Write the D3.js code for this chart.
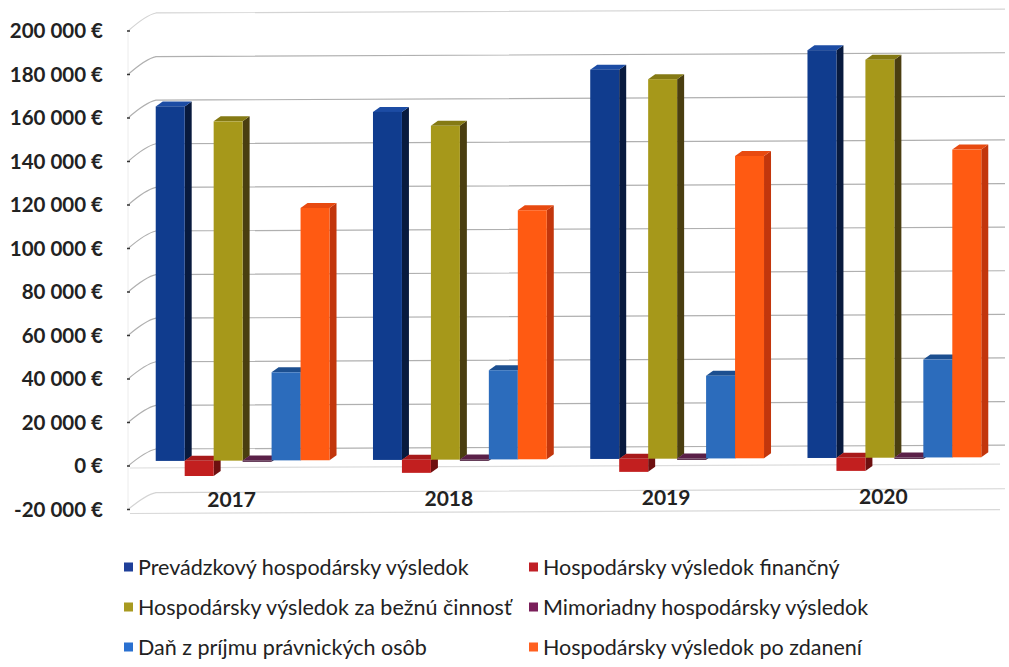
<!DOCTYPE html>
<html>
<head>
<meta charset="utf-8">
<script src="https://cdn.jsdelivr.net/npm/d3@7"></script>
<style>
  html, body { margin: 0; padding: 0; background: #fff; }
  svg { display: block; }
  text { font-family: Lato, "Open Sans", "DejaVu Sans", sans-serif; fill: #222; }
</style>
</head>
<body>
<svg id="chart" width="1009" height="667"></svg>
<script>
// ---- data ----
const years = ["2017", "2018", "2019", "2020"];
const seriesNames = [
  "Prevádzkový hospodársky výsledok",
  "Hospodársky výsledok finančný",
  "Hospodársky výsledok za bežnú činnosť",
  "Mimoriadny hospodársky výsledok",
  "Daň z príjmu právnických osôb",
  "Hospodársky výsledok po zdanení"
];
const prevadzkovy = [163000, 160000, 179000, 187500];
const financny    = [-7000, -6000, -6000, -6000];
const beznaCinnost = [156000, 153500, 174500, 183000];
const mimoriadny  = [-600, -600, -600, -600];
const dan         = [40500, 41000, 38000, 45000];
const poZdaneni   = [116000, 114500, 139000, 141500];
const seriesValues = [prevadzkovy, financny, beznaCinnost, mimoriadny, dan, poZdaneni];
const yTicks = [-20000, 0, 20000, 40000, 60000, 80000, 100000, 120000, 140000, 160000, 180000, 200000];

// colours: [front, side, top, legend]
const colors = [
  ["#103c8e", "#081a3e", "#1c4ca4", "#1f3f99"],
  ["#c21f1f", "#6e1010", "#a81a1a", "#c01f25"],
  ["#a6981a", "#4a3e10", "#857a14", "#a89a20"],
  ["#4a1a3c", "#2a0c22", "#5a2048", "#7a1f5a"],
  ["#2c6cbc", "#163a6a", "#1c4f90", "#2a70d0"],
  ["#ff5a12", "#c2360c", "#e84a10", "#ff6020"]
];

const svg = d3.select("#chart");

// ---- scales ----
const x0 = d3.scaleBand().domain(years).range([134, 1003]).paddingInner(0.2).paddingOuter(0.1);
const x1 = d3.scaleBand().domain(d3.range(seriesNames.length)).range([0, x0.bandwidth()]);
const yFront = d3.scaleLinear().domain([-20000, 200000]).range([504.5, 26]);
const yBack  = d3.scaleLinear().domain([-20000, 200000]).range([492.6, 13]);
const yLabel = d3.scaleLinear().domain([-20000, 200000]).range([509.5, 31]);
const tilt = x => -(x - 150) * 0.0045;

const depthX = 7, depthY = -5;

// ---- back wall grid ----
const grid = svg.append("g");
const wallLeft = 150, wallRight = 1005;
yTicks.forEach(v => {
  const yb = yBack(v);
  const yl = yLabel(v);
  grid.append("path")
    .attr("d", `M128,${yl} Q${wallLeft - 4},${yb + 2} ${wallLeft + 6},${yb + tilt(wallLeft + 6)} L${wallRight},${yb + tilt(wallRight)}`)
    .attr("fill", "none")
    .attr("stroke", v === 200000 || v === -20000 ? "#d4d4d4" : "#b0b0b0")
    .attr("stroke-width", 1.2);
});
// floor edges
[[yFront(0) + 7, "#dcdcdc"], [yLabel(-20000) + 4, "#d8d8d8"]].forEach(([yy, c]) => {
  grid.append("line")
    .attr("x1", 130).attr("x2", 1000)
    .attr("y1", yy).attr("y2", yy + tilt(1000) - tilt(130))
    .attr("stroke", c).attr("stroke-width", 1.2);
});
// left wall vertical edge
grid.append("line").attr("x1", 128).attr("x2", 128)
  .attr("y1", yLabel(200000)).attr("y2", yLabel(-20000))
  .attr("stroke", "#ececec");

// ---- y axis labels + ticks ----
const fmt = v => d3.format(",")(v).replace(/,/g, " ").replace("\u2212", "-") + " €";
const yAxisG = svg.append("g");
yTicks.forEach(v => {
  yAxisG.append("text")
    .attr("x", 103).attr("y", yLabel(v))
    .attr("dy", "0.36em")
    .attr("text-anchor", "end")
    .attr("font-size", 20.5)
    .attr("font-weight", 700)
    .text(fmt(v));
  yAxisG.append("line")
    .attr("x1", 127).attr("x2", 130)
    .attr("y1", yLabel(v)).attr("y2", yLabel(v))
    .attr("stroke", "#333").attr("stroke-width", 1.5);
});

// ---- bars ----
const bars = svg.append("g");
years.forEach((yr, gi) => {
  seriesValues.forEach((vals, si) => {
    const v = vals[gi];
    const x = x0(yr) + x1(si);
    const w = x1.bandwidth();
    const t = tilt(x + w / 2);
    const yT = yFront(Math.max(v, 0)) + t;
    const yB = yFront(Math.min(v, 0)) + t;
    const c = colors[si];
    const g = bars.append("g");
    g.append("path")
      .attr("d", `M${x + w},${yT} L${x + w + depthX},${yT + depthY} L${x + w + depthX},${yB + depthY} L${x + w},${yB} Z`)
      .attr("fill", c[1]);
    g.append("path")
      .attr("d", `M${x},${yT} L${x + depthX},${yT + depthY} L${x + w + depthX},${yT + depthY} L${x + w},${yT} Z`)
      .attr("fill", c[2]);
    g.append("rect")
      .attr("x", x).attr("y", yT)
      .attr("width", w).attr("height", Math.max(0.5, yB - yT))
      .attr("fill", c[0]);
  });
});

// ---- category labels ----
years.forEach(yr => {
  const cx = x0(yr) + x0.bandwidth() / 2 - 11;
  svg.append("text")
    .attr("x", cx).attr("y", 500 + tilt(cx))
    .attr("dy", "0.36em")
    .attr("text-anchor", "middle")
    .attr("font-size", 21)
    .attr("font-weight", 700)
    .text(yr);
});

// ---- legend ----
const legend = svg.append("g");
const legCols = [124, 529];
const legRows = [567, 607, 647];
seriesNames.forEach((name, i) => {
  const lx = legCols[i % 2];
  const ly = legRows[Math.floor(i / 2)];
  legend.append("rect")
    .attr("x", lx).attr("y", ly - 4.5)
    .attr("width", 9).attr("height", 9)
    .attr("fill", colors[i][3]);
  legend.append("text")
    .attr("x", lx + 14).attr("y", ly)
    .attr("dy", "0.36em")
    .attr("font-size", 21.5)
    .text(name);
});
</script>
</body>
</html>
